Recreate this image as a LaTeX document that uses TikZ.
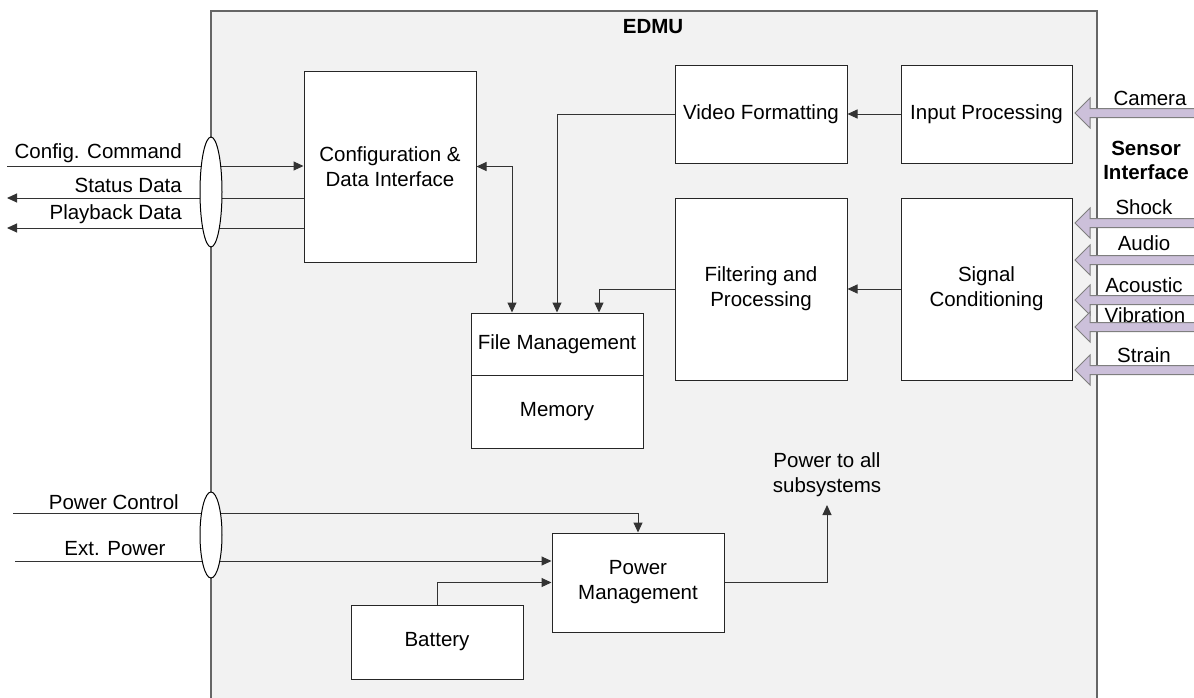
\documentclass[tikz,border=0pt]{standalone}
\usepackage{fontspec}
\setmainfont{Liberation Sans}
\usetikzlibrary{arrows.meta,shapes.geometric,calc}
\definecolor{panel}{HTML}{F2F2F2}
\definecolor{lav}{HTML}{CCC0DA}
\definecolor{lavline}{HTML}{7F7F7F}
\begin{document}
\begin{tikzpicture}[x=1pt,y=-1pt,
  font=\fontsize{20.5}{25}\selectfont,
  blk/.style={draw=black!85,line width=1pt,fill=white,inner sep=0pt,align=center},
  conn/.style={draw=black!80,line width=1pt,-{Triangle[length=10pt,width=9pt]}},
  conn2/.style={draw=black!80,line width=1pt,{Triangle[length=10pt,width=9pt]}-{Triangle[length=10pt,width=9pt]}},
  plain/.style={draw=black!80,line width=1pt},
  bund/.style={ellipse,draw=black,line width=1pt,fill=white,inner sep=0pt,minimum width=22pt},
  lbl/.style={inner sep=0pt},
  sens/.style={draw=lavline,line width=1pt,fill=lav,line join=miter}
]
\useasboundingbox (0,0) rectangle (1194,697);
\clip (0,0) rectangle (1194,697);
% EDMU panel
\draw[draw=black!60,line width=1.6pt,fill=panel] (211,11) rectangle (1097,720);
\node[lbl,font=\fontsize{20.5}{25}\selectfont\bfseries] (edmu) at (653,27) {EDMU};

% blocks
\node[blk,minimum width=172pt,minimum height=191pt] (cfg) at (390,166.5) {Configuration \&\\Data Interface};
\node[blk,minimum width=172pt,minimum height=98pt] (vf) at (761,114) {Video Formatting};
\node[blk,minimum width=171pt,minimum height=98pt] (ip) at (986.5,114) {Input Processing};
\node[blk,minimum width=172pt,minimum height=182pt] (fp) at (761,289) {Filtering and\\Processing};
\node[blk,minimum width=171pt,minimum height=182pt] (sc) at (986.5,289) {Signal\\Conditioning};
\node[blk,minimum width=172pt,minimum height=62pt] (fm) at (557,344) {File Management};
\node[blk,minimum width=172pt,minimum height=73pt] (mem) at (557,411.5) {Memory};
\node[blk,minimum width=172pt,minimum height=99pt] (pm) at (638,582.5) {Power\\Management};
\node[blk,minimum width=172pt,minimum height=74pt] (bat) at (437,642) {Battery};

% internal connectors
\draw[conn] (ip.west) -- (vf.east);
\draw[conn] (sc.west) -- (fp.east);
\draw[conn] (vf.west) -| (fm.north);
\draw[conn] (fp.west) -| ([xshift=42pt]fm.north);
\draw[conn2] (cfg.east) -| ([xshift=-45pt]fm.north);

% external data lines
\coordinate (cc) at (7,166);
\coordinate (sd) at (7,198);
\coordinate (pb) at (7,228);
\draw[conn] (cc) -- (cc -| cfg.west);
\draw[conn] (sd -| cfg.west) -- (sd);
\draw[conn] (pb -| cfg.west) -- (pb);
\node[bund,minimum height=110pt] (e1) at (211,192) {};
\node[lbl,anchor=east] (lcc) at (182,153) {Config. Command};
\node[lbl,anchor=east] (lsd) at (182,185) {Status Data};
\node[lbl,anchor=east] (lpb) at (182,214) {Playback Data};

% power lines
\coordinate (pc) at (13,513);
\coordinate (ep) at (15,561);
\draw[conn] (pc) -| (pm.north);
\draw[conn] (ep) -- (ep -| pm.west);
\node[bund,minimum height=86pt] (e2) at (211,535) {};
\node[lbl,anchor=east] (lpc) at (179,502) {Power Control};
\node[lbl] (lep) at (115,549) {Ext. Power};
\draw[conn] (bat.north) |- (pm.west);
\coordinate (pwr) at (827,505);
\draw[conn] (pm.east) -| (pwr);
\node[lbl,align=center] (lpwr) at (827,475) {Power to all\\subsystems};

% sensor interface
\foreach \yy in {113,223,260,300,327,370}{
  \draw[sens] (1196,\yy-4.5) -- (1090,\yy-4.5) -- (1090,\yy-15) -- (1075,\yy) -- (1090,\yy+15) -- (1090,\yy+4.5) -- (1196,\yy+4.5);
}
\node[lbl] (lcam) at (1150,98) {Camera};
\node[lbl,align=center,font=\fontsize{20.5}{24}\selectfont\bfseries] (lsi) at (1146,160) {Sensor\\Interface};
\node[lbl] (lsh) at (1144,207) {Shock};
\node[lbl] (lau) at (1144,243) {Audio};
\node[lbl] (lac) at (1144,285) {Acoustic};
\node[lbl] (lvi) at (1145,315) {Vibration};
\node[lbl] (lst) at (1144,355) {Strain};
\end{tikzpicture}
\end{document}
